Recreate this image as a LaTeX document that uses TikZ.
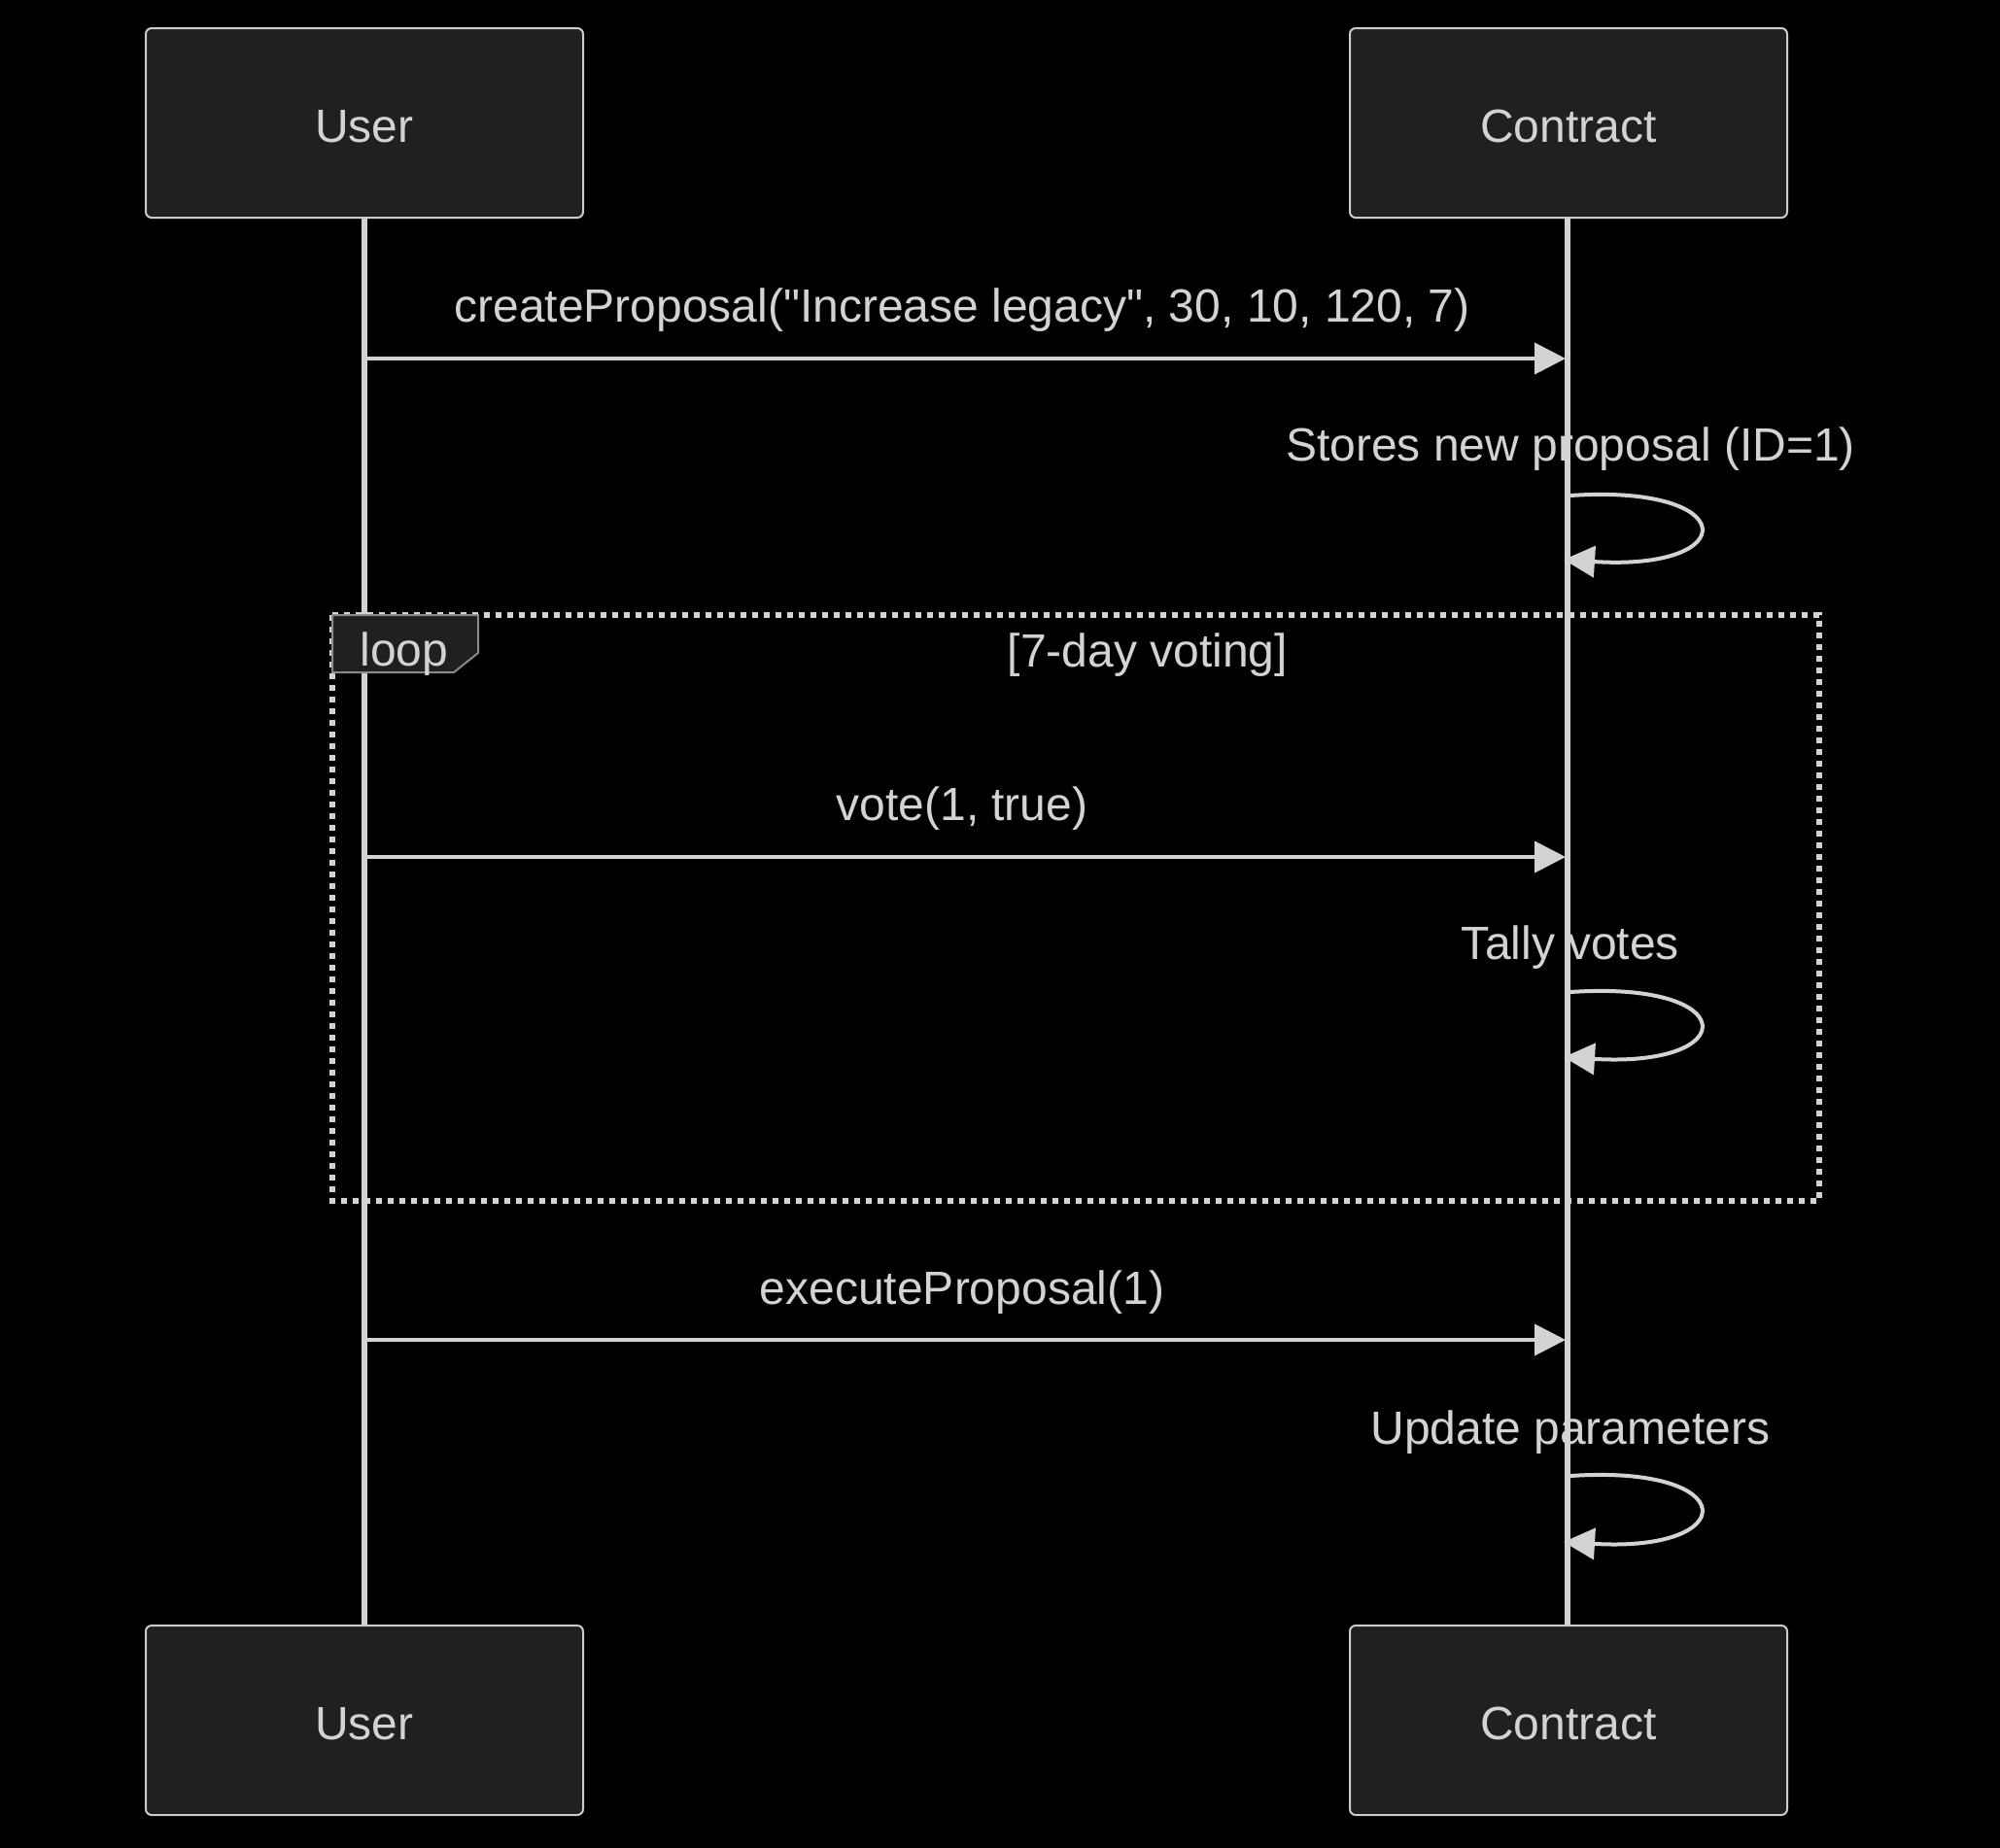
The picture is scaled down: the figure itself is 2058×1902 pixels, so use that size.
\documentclass[tikz,border=0pt]{standalone}
\usepackage{fontspec}
\setmainfont{Liberation Sans}
\newfontfamily\diagramfont{Liberation Sans}
\usetikzlibrary{arrows.meta}
\definecolor{boxfill}{HTML}{1F2020}
\definecolor{edge}{HTML}{CCCCCC}
\definecolor{ink}{HTML}{D3D3D3}
\definecolor{tabedge}{HTML}{8A8A8A}
\tikzset{
  actor/.style={draw=edge, fill=boxfill, rounded corners=3pt, line width=1pt,
    minimum width=225pt, minimum height=97.5pt, text height=19.8pt, text depth=0pt,
    text=ink, font=\diagramfont\fontsize{24}{28}\selectfont},
  lifeline/.style={draw=ink, line width=3pt},
  msg/.style={draw=ink, line width=2pt, -{Triangle[length=16pt,width=16pt]}},
  msgtext/.style={text=ink, font=\diagramfont\fontsize{24}{28}\selectfont, inner sep=0pt},
  loopframe/.style={draw=ink, line width=3pt, dash pattern=on 3pt off 3pt},
  looptab/.style={draw=tabedge, fill=boxfill, line width=1pt},
}
\begin{document}
\begin{tikzpicture}[x=0.5pt,y=-0.5pt]
  % Background
  \fill[black] (0,0) rectangle (2058,1902);
  \useasboundingbox (0,0) rectangle (2058,1902);

  % Lifeline ends
  \coordinate (userTopEnd) at (375,224);
  \coordinate (userBotEnd) at (375,1673);
  \coordinate (contractTopEnd) at (1613,224);
  \coordinate (contractBotEnd) at (1613,1673);

  % Lifelines
  \draw[lifeline] (userTopEnd) -- (userBotEnd);
  \draw[lifeline] (contractTopEnd) -- (contractBotEnd);

  % Loop frame
  \draw[loopframe] (342,633) rectangle (1872,1236);
  \draw[looptab] (342,633) -- (492,633) -- (492,672) -- (467,692) -- (342,692) -- cycle;
  \node[msgtext] (loopKw) at (416,673) {loop};
  \node[msgtext] (loopCond) at (1181,674) {[7-day voting]};

  % Message points
  \coordinate (u1) at (377,369);
  \coordinate (c1) at (1611,369);
  \coordinate (u2) at (377,882);
  \coordinate (c2) at (1611,882);
  \coordinate (u3) at (377,1379);
  \coordinate (c3) at (1611,1379);

  % Arrows
  \draw[msg] (u1) -- (c1);
  \draw[msg] (u2) -- (c2);
  \draw[msg] (u3) -- (c3);

  % Self messages
  \coordinate (s1a) at (1616,510);
  \coordinate (s1b) at (1609,576);
  \coordinate (s2a) at (1616,1021);
  \coordinate (s2b) at (1609,1088);
  \coordinate (s3a) at (1616,1519);
  \coordinate (s3b) at (1609,1587);
  \draw[msg] (s1a) .. controls (1793,498) and (1793,588) .. (s1b);
  \draw[msg] (s2a) .. controls (1793,1009) and (1793,1099) .. (s2b);
  \draw[msg] (s3a) .. controls (1793,1507) and (1793,1598) .. (s3b);

  % Labels
  \node[msgtext] (m1) at (990,319) {createProposal("Increase legacy", 30, 10, 120, 7)};
  \node[msgtext] (m1self) at (1616,462) {Stores new proposal (ID=1)};
  \node[msgtext] (m2) at (990,832) {vote(1, true)};
  \node[msgtext] (m2self) at (1616,975) {Tally votes};
  \node[msgtext] (m3) at (990,1330) {executeProposal(1)};
  \node[msgtext] (m3self) at (1616,1474) {Update parameters};

  % Actors
  \node[actor] (userTop) at (375,126.5) {User};
  \node[actor] (contractTop) at (1614,126.5) {Contract};
  \node[actor] (userBot) at (375,1770.5) {User};
  \node[actor] (contractBot) at (1614,1770.5) {Contract};
\end{tikzpicture}
\end{document}
